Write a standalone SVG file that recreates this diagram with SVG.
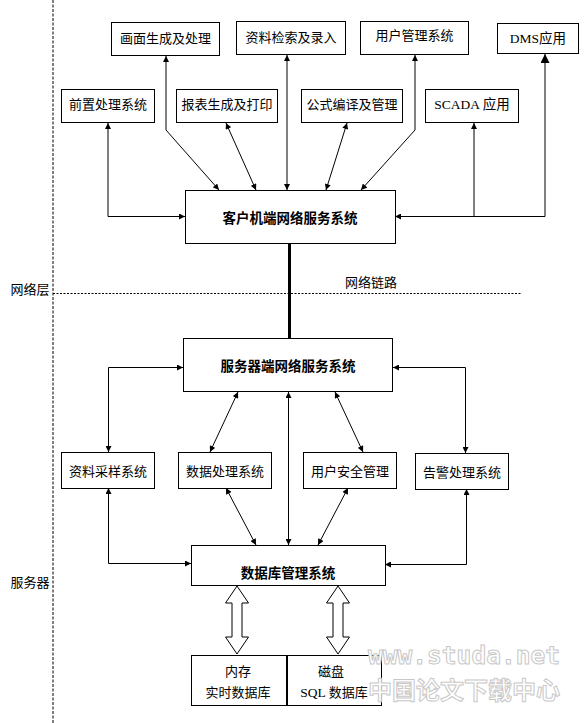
<svg xmlns="http://www.w3.org/2000/svg" width="586" height="723" viewBox="0 0 586 723">
<style>
.box{fill:#fff;stroke:#000;stroke-width:1}
.t{font-family:"Noto Sans CJK SC","Liberation Sans",sans-serif;font-size:13px;fill:#000;text-anchor:middle}
.s{font-family:"Liberation Serif","Noto Sans CJK SC",serif;font-size:13.5px;fill:#000;text-anchor:middle}
.b{font-family:"Noto Sans CJK SC","Liberation Sans",sans-serif;font-size:13.5px;font-weight:bold;fill:#000;text-anchor:middle}
.c{fill:none;stroke:#000;stroke-width:1}
.wm{font-family:"DejaVu Sans Mono","Noto Sans CJK SC",monospace;font-weight:bold;fill:#fff;stroke:#c8c8c8;stroke-width:1;text-anchor:middle}
</style>
<defs>
<marker id="a" viewBox="0 0 10 10" refX="10" refY="5" markerWidth="7" markerHeight="6" markerUnits="userSpaceOnUse" orient="auto-start-reverse"><path d="M0,0 L10,5 L0,10 z" fill="#000"/></marker>
<marker id="big" viewBox="0 0 10 10" refX="10" refY="5" markerWidth="9" markerHeight="9" markerUnits="userSpaceOnUse" orient="auto-start-reverse"><path d="M0,0 L10,5 L0,10 z" fill="#000"/></marker>
</defs>
<rect width="586" height="723" fill="#fff"/>

<g id="layers">
<line x1="53" y1="0" x2="53" y2="723" stroke="#000" stroke-width="1" stroke-dasharray="3 1.5"/>
<line x1="53" y1="293.5" x2="521" y2="293.5" stroke="#000" stroke-width="1" stroke-dasharray="2 1.5"/>
<text class="t" x="30" y="294">网络层</text>
<text class="t" x="371" y="287">网络链路</text>
<text class="t" x="30" y="587">服务器</text>
</g>

<g id="connectors">
<path class="c" d="M108,123 V216.5 H185" marker-start="url(#a)" marker-end="url(#a)"/>
<path class="c" d="M166,56 V130 L219,190" marker-start="url(#a)" marker-end="url(#a)"/>
<path class="c" d="M226,123 L256,190" marker-start="url(#a)" marker-end="url(#a)"/>
<path class="c" d="M287,55 V190" marker-start="url(#a)" marker-end="url(#a)"/>
<path class="c" d="M347,123 L326,190" marker-start="url(#a)" marker-end="url(#a)"/>
<path class="c" d="M415,55 V130 L361,190" marker-start="url(#a)" marker-end="url(#a)"/>
<path class="c" d="M474,123 V216.5" marker-start="url(#a)"/>
<path class="c" d="M545,54 V216.5 H395" marker-start="url(#big)" marker-end="url(#a)"/>
<line x1="289.5" y1="243" x2="289.5" y2="338" stroke="#000" stroke-width="3"/>
<path class="c" d="M108.5,452 V367.5 H183" marker-start="url(#a)" marker-end="url(#a)"/>
<path class="c" d="M465.5,453 V367.5 H393" marker-start="url(#a)" marker-end="url(#a)"/>
<path class="c" d="M238,392 L210,452" marker-start="url(#a)" marker-end="url(#a)"/>
<path class="c" d="M288.5,392 V545" marker-start="url(#a)" marker-end="url(#a)"/>
<path class="c" d="M335,392 L363,452" marker-start="url(#a)" marker-end="url(#a)"/>
<path class="c" d="M108.5,488 V563.5 H191" marker-start="url(#a)" marker-end="url(#a)"/>
<path class="c" d="M226,488 L256,545" marker-start="url(#a)" marker-end="url(#a)"/>
<path class="c" d="M348,488 L318,545" marker-start="url(#a)" marker-end="url(#a)"/>
<path class="c" d="M466.5,489 V564.5 H385" marker-start="url(#a)" marker-end="url(#a)"/>
<path class="box" d="M237,586 L248.5,603 L242,603 L242,637 L248.5,637 L237,654 L225.5,637 L232,637 L232,603 L225.5,603 Z"/>
<path class="box" d="M338,586 L349.5,603 L343,603 L343,637 L349.5,637 L338,654 L326.5,637 L333,637 L333,603 L326.5,603 Z"/>
</g>

<g id="n-hmsc"><rect class="box" x="111.5" y="22.5" width="108" height="33"/><text class="t" x="165.5" y="43">画面生成及处理</text></g>
<g id="n-zljs"><rect class="box" x="236.5" y="21.5" width="109" height="33"/><text class="t" x="291" y="42">资料检索及录入</text></g>
<g id="n-yhgl"><rect class="box" x="360.5" y="21.5" width="108" height="33"/><text class="t" x="414.5" y="40">用户管理系统</text></g>
<g id="n-dms"><rect class="box" x="497.5" y="23.5" width="81" height="30"/><text class="s" x="538" y="43">DMS应用</text></g>
<g id="n-qzcl"><rect class="box" x="61.5" y="89.5" width="93" height="33"/><text class="t" x="108" y="109">前置处理系统</text></g>
<g id="n-bbsc"><rect class="box" x="176.5" y="89.5" width="101" height="33"/><text class="t" x="227" y="109">报表生成及打印</text></g>
<g id="n-gsby"><rect class="box" x="301.5" y="89.5" width="101" height="33"/><text class="t" x="352" y="109">公式编译及管理</text></g>
<g id="n-scada"><rect class="box" x="425.5" y="89.5" width="93" height="33"/><text class="s" x="472" y="109">SCADA 应用</text></g>
<g id="n-client"><rect class="box" x="185.5" y="190.5" width="210" height="53"/><text class="b" x="290" y="223">客户机端网络服务系统</text></g>
<g id="n-server"><rect class="box" x="183.5" y="338.5" width="209" height="53"/><text class="b" x="288" y="371">服务器端网络服务系统</text></g>
<g id="n-zlcy"><rect class="box" x="61.5" y="452.5" width="93" height="36"/><text class="t" x="108" y="476">资料采样系统</text></g>
<g id="n-sjcl"><rect class="box" x="178.5" y="452.5" width="93" height="36"/><text class="t" x="225" y="476">数据处理系统</text></g>
<g id="n-yhaq"><rect class="box" x="303.5" y="452.5" width="93" height="36"/><text class="t" x="350" y="476">用户安全管理</text></g>
<g id="n-gjcl"><rect class="box" x="415.5" y="453.5" width="93" height="36"/><text class="t" x="462" y="477">告警处理系统</text></g>
<g id="n-db"><rect class="box" x="191.5" y="545.5" width="194" height="40"/><text class="b" x="288" y="578">数据库管理系统</text></g>
<g id="n-mem"><rect class="box" x="191.5" y="655.5" width="95" height="50"/><text class="t" x="238" y="676">内存</text><text class="t" x="238" y="697">实时数据库</text></g>
<g id="n-disk"><rect class="box" x="287.5" y="655.5" width="94" height="50"/><text class="t" x="331" y="676">磁盘</text><text class="s" x="334" y="697">SQL <tspan font-family="Noto Sans CJK SC, sans-serif" font-size="13">数据库</tspan></text></g>

<g id="watermark">
<text class="wm" x="464" y="664" font-size="24" textLength="192" lengthAdjust="spacingAndGlyphs">www.studa.net</text>
<text class="wm" x="464" y="699" font-size="24" textLength="192" lengthAdjust="spacingAndGlyphs">中国论文下载中心</text>
</g>
</svg>
